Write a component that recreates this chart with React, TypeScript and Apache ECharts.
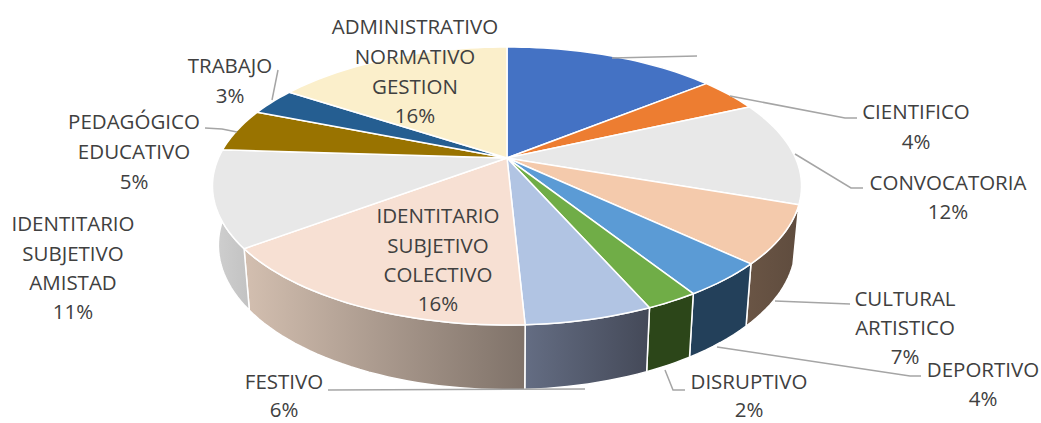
import React, { useEffect, useRef } from "react";
import * as echarts from "echarts";

const categories = ["", "CIENTIFICO", "CONVOCATORIA", "CULTURAL ARTISTICO", "DEPORTIVO", "DISRUPTIVO", "FESTIVO", "IDENTITARIO SUBJETIVO COLECTIVO", "IDENTITARIO SUBJETIVO AMISTAD", "PEDAGÓGICO EDUCATIVO", "TRABAJO", "ADMINISTRATIVO NORMATIVO GESTION"];
const shares = [14.2, 4, 12.1, 6.7, 4, 2.4, 5.8, 15.6, 11.2, 5, 3.2, 15.8];
const topColors = ["#4472C4", "#ED7D31", "#E8E8E8", "#F4CAAC", "#5B9BD5", "#70AD47", "#B1C4E3", "#F7E0D3", "#E8E8E8", "#997300", "#255E91", "#FBEFCB"];
const wallStarts = ["#2A4678", "#8F4B1E", "#8C8C8C", "#6A5545", "#23405A", "#2C4619", "#646D83", "#D3BFB0", "#D0D0D0", "#5C4600", "#163856", "#978F78"];
const wallEnds = ["#2A4678", "#8F4B1E", "#8C8C8C", "#5F4C3E", "#23405A", "#2C4619", "#444958", "#7F7269", "#C2C2C2", "#5C4600", "#163856", "#978F78"];

const labelRows: [string, number, number][] = [
  ["ADMINISTRATIVO", 415, 26], ["NORMATIVO", 415, 56], ["GESTION", 415, 86], ["16%", 415, 115],
  ["TRABAJO", 230, 65], ["3%", 230, 95],
  ["PEDAGÓGICO", 134, 121], ["EDUCATIVO", 134, 151], ["5%", 134, 181],
  ["IDENTITARIO", 73, 223], ["SUBJETIVO", 73, 253], ["AMISTAD", 73, 282], ["11%", 73, 311],
  ["IDENTITARIO", 438, 215], ["SUBJETIVO", 438, 245], ["COLECTIVO", 438, 274], ["16%", 438, 303],
  ["FESTIVO", 284, 381], ["6%", 284, 409],
  ["DISRUPTIVO", 749, 381], ["2%", 749, 409],
  ["DEPORTIVO", 983, 369], ["4%", 983, 398],
  ["CULTURAL", 905, 298], ["ARTISTICO", 905, 327], ["7%", 905, 356],
  ["CIENTIFICO", 916, 111], ["4%", 916, 141],
  ["CONVOCATORIA", 948, 182], ["12%", 948, 211],
];
const leaders: number[][][] = [
  [[612, 58], [697, 56]],
  [[730, 96], [845, 118], [857, 118]],
  [[795, 154], [851, 188], [863, 188]],
  [[775, 301], [850, 304]],
  [[717, 347], [910, 376], [921, 376]],
  [[665, 370], [673, 390], [685, 390]],
  [[328, 390], [585, 389]],
  [[205, 128], [222, 129], [237, 132]],
  [[278, 70], [272, 100]],
];

const CX = 507, CY = 158, R = 288.5, A = 133.4, P = 0.2014;
const WALL = 58, WALL_K = 0.04, SHRINK = 0.98;

function top(pct: number) {
  const t = (pct / 100) * Math.PI * 2;
  const X = Math.sin(t), Y = -Math.cos(t);
  const d = 1 - P * Y;
  return [CX + (R * X) / d, CY + (A * Y) / d];
}
function bottom(pct: number) {
  const [x, y] = top(pct);
  return [CX + (x - CX) * SHRINK, y + WALL + (y - CY) * WALL_K];
}
const total = shares.reduce((a, b) => a + b, 0);
const norm = shares.map((v) => (v / total) * 100);
const starts = norm.map((_, i) => norm.slice(0, i).reduce((a, b) => a + b, 0));

function arc(i: number, fn: (p: number) => number[]) {
  const pts: number[][] = [];
  const n = Math.max(6, Math.ceil(norm[i] * 2));
  for (let k = 0; k <= n; k++) pts.push(fn(starts[i] + (norm[i] * k) / n));
  return pts;
}

export default function App() {
  const ref = useRef<HTMLDivElement>(null);
  useEffect(() => {
    const chart = echarts.init(ref.current!, undefined, { renderer: "svg" });
    const data = shares.map((v, i) => ({ name: categories[i], value: [i, v] }));
    chart.setOption({
      animation: false,
      backgroundColor: "#fff",
      series: [
        {
          type: "custom",
          coordinateSystem: "none",
          silent: true,
          z: 2,
          data,
          renderItem: (_: any, api: any) => {
            const i = api.value(0);
            const a = arc(i, top);
            const b = arc(i, bottom);
            const xs = a.concat(b).map((p) => p[0]);
            return {
              type: "polygon",
              shape: { points: a.concat(b.reverse()) },
              style: {
                fill: {
                  type: "linear", global: true,
                  x: Math.min(...xs), y: 0, x2: Math.max(...xs), y2: 0,
                  colorStops: [{ offset: 0, color: wallStarts[i] }, { offset: 1, color: wallEnds[i] }],
                },
                stroke: "#fff", lineWidth: 1.5,
              },
            };
          },
        },
        {
          type: "custom",
          coordinateSystem: "none",
          silent: true,
          z: 3,
          data,
          renderItem: (_: any, api: any) => {
            const i = api.value(0);
            return {
              type: "polygon",
              shape: { points: [[CX, CY], ...arc(i, top)] },
              style: { fill: topColors[i], stroke: "#fff", lineWidth: 1.5, lineJoin: "round" },
            };
          },
        },
      ],
      graphic: {
        z: 10,
        elements: [
          ...leaders.map((pts) => ({
            type: "polyline", silent: true, z: 10,
            shape: { points: pts },
            style: { stroke: "#A5A5A5", lineWidth: 1.5, fill: null },
          })),
          ...labelRows.map(([text, x, y]) => ({
            type: "text", silent: true, z: 11, x, y,
            style: { text, fill: "#404040", font: "20.5px 'Open Sans', sans-serif", textAlign: "center", textVerticalAlign: "middle" },
          })),
        ],
      },
    });
    return () => chart.dispose();
  }, []);
  return <div ref={ref} style={{ position: "absolute", left: 0, top: 0, width: 1041, height: 423 }} />;
}
